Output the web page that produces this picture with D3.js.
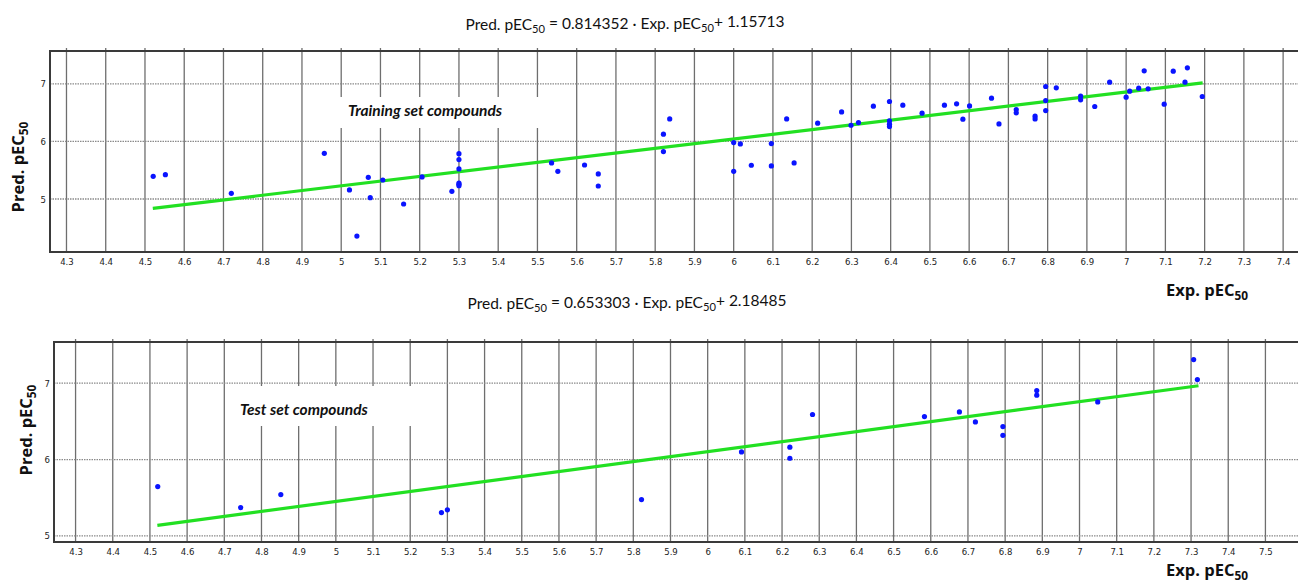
<!DOCTYPE html>
<html>
<head>
<meta charset="utf-8">
<script src="https://cdn.jsdelivr.net/npm/d3@7"></script>
<style>
  body { margin: 0; background: #fff; }
  svg { display: block; }
</style>
</head>
<body>
<svg id="chart" width="1298" height="583"></svg>
<script>
// training set: experimental vs predicted pEC50
const trainExp = [4.521, 4.552, 4.720, 4.957, 5.021, 5.040, 5.069, 5.074, 5.106, 5.159,
  5.206, 5.282, 5.300, 5.300, 5.300, 5.300, 5.300, 5.300, 5.536, 5.552,
  5.620, 5.655, 5.655, 5.821, 5.837, 5.821, 6.000, 6.000, 6.017, 6.045,
  6.096, 6.096, 6.135, 6.154, 6.214, 6.275, 6.299, 6.318, 6.356, 6.397,
  6.397, 6.397, 6.397, 6.431, 6.480, 6.537, 6.568, 6.584, 6.601, 6.657,
  6.676, 6.720, 6.720, 6.768, 6.768, 6.795, 6.795, 6.795, 6.822, 6.884,
  6.884, 6.920, 6.958, 7.000, 7.009, 7.032, 7.046, 7.056, 7.097, 7.120,
  7.150, 7.156, 7.194];
const trainPred = [5.394, 5.423, 5.099, 5.794, 5.157, 4.357, 5.377, 5.023, 5.330, 4.913,
  5.383, 5.133, 5.788, 5.684, 5.522, 5.278, 5.255, 5.232, 5.626, 5.481,
  5.591, 5.435, 5.226, 6.125, 6.391, 5.823, 5.980, 5.481, 5.957, 5.586,
  5.962, 5.574, 6.391, 5.626, 6.316, 6.513, 6.281, 6.328, 6.612, 6.693,
  6.357, 6.299, 6.258, 6.629, 6.490, 6.629, 6.652, 6.386, 6.617, 6.751,
  6.304, 6.554, 6.496, 6.438, 6.391, 6.954, 6.710, 6.536, 6.930, 6.786,
  6.722, 6.606, 7.029, 6.768, 6.872, 6.925, 7.226, 6.913, 6.646, 7.220,
  7.029, 7.278, 6.780];

// test set
const testExp = [4.521, 4.744, 4.852, 5.284, 5.300, 5.822, 6.091, 6.221, 6.221, 6.282,
  6.583, 6.677, 6.720, 6.794, 6.794, 6.885, 6.885, 7.049, 7.307, 7.317];
const testPred = [5.646, 5.371, 5.541, 5.306, 5.341, 5.476, 6.100, 6.162, 6.017, 6.590,
  6.563, 6.624, 6.493, 6.432, 6.317, 6.904, 6.843, 6.755, 7.310, 7.048];

// regression lines (coefficients from the equations in the titles)
const trainFit = { slope: 0.814352, intercept: 1.15713, from: 4.52, to: 7.195 };
const testFit = { slope: 0.653303, intercept: 2.18485, from: 4.52, to: 7.32 };

const trainXTicks = [4.3, 4.4, 4.5, 4.6, 4.7, 4.8, 4.9, 5, 5.1, 5.2, 5.3, 5.4, 5.5, 5.6, 5.7, 5.8,
  5.9, 6, 6.1, 6.2, 6.3, 6.4, 6.5, 6.6, 6.7, 6.8, 6.9, 7, 7.1, 7.2, 7.3, 7.4];
const testXTicks = [4.3, 4.4, 4.5, 4.6, 4.7, 4.8, 4.9, 5, 5.1, 5.2, 5.3, 5.4, 5.5, 5.6, 5.7, 5.8,
  5.9, 6, 6.1, 6.2, 6.3, 6.4, 6.5, 6.6, 6.7, 6.8, 6.9, 7, 7.1, 7.2, 7.3, 7.4, 7.5];
const yTicks = [5, 6, 7];

const svg = d3.select("#chart");
const txtFont = "Lato, 'Open Sans', sans-serif";

function subText(sel, parts) {
  // parts: [text, isSub]
  parts.forEach(([t, sub]) => {
    const ts = sel.append("tspan").text(t);
    if (sub) ts.attr("font-size", "0.72em").attr("dy", "0.3em");
    else ts.attr("dy", sel.selectAll("tspan").size() > 1 ? "-0.3em" : 0);
  });
}

function drawPanel(p) {
  const x = d3.scaleLinear().domain(p.xDomain).range([p.left, p.right]);
  const y = d3.scaleLinear().domain(p.yDomain).range([p.bottom, p.top]);
  const g = svg.append("g");

  // title
  const title = g.append("text")
    .attr("x", p.titleX).attr("y", p.titleY)
    .attr("text-anchor", "middle")
    .attr("font-family", txtFont).attr("font-size", 15.5).attr("fill", "#111");
  subText(title, p.title);

  // vertical grid
  g.append("g").selectAll("line").data(p.xTicks).join("line")
    .attr("x1", d => x(d)).attr("x2", d => x(d))
    .attr("y1", p.top - 3).attr("y2", p.bottom)
    .attr("stroke", "#6e6e6e").attr("stroke-width", 1.3);

  // horizontal dotted grid
  g.append("g").selectAll("line").data(yTicks).join("line")
    .attr("x1", p.left).attr("x2", p.right)
    .attr("y1", d => y(d)).attr("y2", d => y(d))
    .attr("stroke", "#8a8a8a").attr("stroke-width", 1.3)
    .attr("stroke-dasharray", "1.5,1");

  // label box hides grid behind it
  g.append("rect")
    .attr("x", p.box[0]).attr("y", p.box[1])
    .attr("width", p.box[2]).attr("height", p.box[3])
    .attr("fill", "#fff");
  g.append("text")
    .attr("x", p.labelX).attr("y", p.labelY)
    .attr("font-family", txtFont).attr("font-size", 15.5)
    .attr("font-weight", "bold").attr("font-style", "italic")
    .attr("fill", "#111")
    .text(p.label);

  // frame
  g.append("rect")
    .attr("x", p.left).attr("y", p.top)
    .attr("width", p.right - p.left).attr("height", p.bottom - p.top)
    .attr("fill", "none").attr("stroke", "#3a3a3a").attr("stroke-width", 2);

  // x axis
  const xAxis = d3.axisBottom(x).tickValues(p.xTicks).tickSize(0).tickPadding(6)
    .tickFormat(d => String(d));
  const xg = g.append("g").attr("transform", `translate(0,${p.bottom})`).call(xAxis);
  xg.select(".domain").remove();
  xg.selectAll("text")
    .attr("font-family", "'DejaVu Sans Condensed', 'Liberation Sans Narrow', sans-serif")
    .attr("font-size", 9.5).attr("fill", "#222");

  // y axis
  const yAxis = d3.axisLeft(y).tickValues(yTicks).tickSize(0).tickPadding(4)
    .tickFormat(d => String(d));
  const yg = g.append("g").attr("transform", `translate(${p.left},0)`).call(yAxis);
  yg.select(".domain").remove();
  yg.selectAll("text")
    .attr("font-family", "'DejaVu Sans Condensed', 'Liberation Sans Narrow', sans-serif")
    .attr("font-size", 9.5).attr("fill", "#222");

  // regression line
  const fit = p.fit;
  const linePts = [fit.from, fit.to].map(v => [v, fit.slope * v + fit.intercept]);
  g.append("path")
    .datum(linePts)
    .attr("d", d3.line().x(d => x(d[0])).y(d => y(d[1])))
    .attr("fill", "none").attr("stroke", "#22e022").attr("stroke-width", 3.2);

  // points
  g.append("g").selectAll("circle").data(p.xs.map((v, i) => [v, p.ys[i]])).join("circle")
    .attr("cx", d => x(d[0])).attr("cy", d => y(d[1]))
    .attr("r", 2.6).attr("fill", "#0a14ff");

  // axis titles
  const yl = g.append("text")
    .attr("transform", `translate(${p.yLabelX},${p.yLabelY}) rotate(-90)`)
    .attr("text-anchor", "middle")
    .attr("font-family", "'Open Sans', Lato, sans-serif").attr("font-size", 16.5)
    .attr("font-weight", "bold").attr("fill", "#111");
  subText(yl, [["Pred. pEC", false], ["50", true]]);

  const xl = g.append("text")
    .attr("x", p.xLabelX).attr("y", p.xLabelY)
    .attr("font-family", "'Open Sans', Lato, sans-serif").attr("font-size", 16.5)
    .attr("font-weight", "bold").attr("fill", "#111");
  subText(xl, [["Exp. pEC", false], ["50", true]]);
}

drawPanel({
  xDomain: [4.258, 7.443], yDomain: [4.08, 7.57],
  left: 50, right: 1300, top: 51, bottom: 252,
  xTicks: trainXTicks, xs: trainExp, ys: trainPred, fit: trainFit,
  title: [["Pred. pEC", false], ["50", true], [" = 0.814352 · Exp. pEC", false], ["50", true], ["+ 1.15713", false]],
  titleX: 625, titleY: 30,
  label: "Training set compounds", labelX: 348, labelY: 116,
  box: [336, 97, 206, 31],
  yLabelX: 24, yLabelY: 167,
  xLabelX: 1166, xLabelY: 296
});

drawPanel({
  xDomain: [4.242, 7.593], yDomain: [4.92, 7.54],
  left: 54, right: 1300, top: 342, bottom: 542,
  xTicks: testXTicks, xs: testExp, ys: testPred, fit: testFit,
  title: [["Pred. pEC", false], ["50", true], [" = 0.653303  · Exp. pEC", false], ["50", true], ["+ 2.18485", false]],
  titleX: 627, titleY: 309,
  label: "Test set compounds", labelX: 240, labelY: 415,
  box: [232, 386, 186, 40],
  yLabelX: 32, yLabelY: 430,
  xLabelX: 1166, xLabelY: 576
});
</script>
</body>
</html>
